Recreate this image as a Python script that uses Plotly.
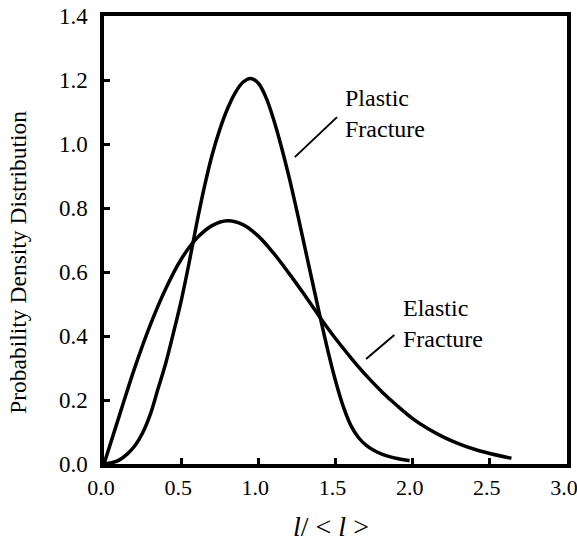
import plotly.graph_objects as go

# ---- data ----
plastic_x = [0.0, 0.05, 0.1, 0.15, 0.2, 0.25, 0.3, 0.35, 0.4, 0.45, 0.5, 0.55, 0.6, 0.65,
             0.7, 0.75, 0.8, 0.85, 0.9, 0.95, 1.0, 1.05, 1.1, 1.15, 1.2, 1.25, 1.3, 1.35,
             1.4, 1.45, 1.5, 1.55, 1.6, 1.65, 1.7, 1.75, 1.8, 1.85, 1.9, 1.98]
plastic_y = [0.0, 0.004, 0.013, 0.031, 0.057, 0.097, 0.155, 0.235, 0.315, 0.41, 0.51, 0.625,
             0.75, 0.865, 0.965, 1.045, 1.11, 1.16, 1.193, 1.205, 1.19, 1.145, 1.075, 0.99,
             0.895, 0.79, 0.68, 0.57, 0.46, 0.355, 0.26, 0.18, 0.12, 0.082, 0.058, 0.042,
             0.031, 0.023, 0.017, 0.01]

elastic_x = [0.0, 0.1, 0.2, 0.3, 0.4, 0.5, 0.6, 0.7, 0.8, 0.9, 1.0, 1.1, 1.2, 1.3, 1.4,
             1.5, 1.6, 1.7, 1.8, 1.9, 2.0, 2.1, 2.2, 2.3, 2.4, 2.5, 2.64]
elastic_y = [0.0, 0.152, 0.302, 0.435, 0.548, 0.64, 0.705, 0.745, 0.76, 0.748, 0.712, 0.658,
             0.595, 0.528, 0.458, 0.392, 0.332, 0.276, 0.226, 0.182, 0.142, 0.11, 0.084,
             0.063, 0.046, 0.033, 0.018]

x_ticks = [0.0, 0.5, 1.0, 1.5, 2.0, 2.5, 3.0]
y_ticks = [0.0, 0.2, 0.4, 0.6, 0.8, 1.0, 1.2, 1.4]

labels = ["Plastic<br>Fracture", "Elastic<br>Fracture"]
label_pos = [(1.55, 1.095), (1.925, 0.44)]
leaders = [((1.236, 0.959), (1.51, 1.084)), ((1.698, 0.328), (1.881, 0.403))]

FONT = "Liberation Serif, Times New Roman, serif"

fig = go.Figure()
for xs, ys in [(plastic_x, plastic_y), (elastic_x, elastic_y)]:
    fig.add_trace(go.Scatter(x=xs, y=ys, mode="lines",
                             line=dict(color="black", width=3.5, shape="spline", smoothing=1.0),
                             showlegend=False, hoverinfo="skip"))

for txt, (lx, ly) in zip(labels, label_pos):
    fig.add_annotation(x=lx, y=ly, xref="x", yref="y", text=txt, showarrow=False,
                       xanchor="left", yanchor="middle", align="left",
                       font=dict(family=FONT, size=24, color="black"))

for (a, b) in leaders:
    fig.add_shape(type="line", x0=a[0], y0=a[1], x1=b[0], y1=b[1], xref="x", yref="y",
                  line=dict(color="black", width=2))

fig.add_annotation(text="Probability Density Distribution", textangle=-90,
                   xref="paper", yref="paper", x=-0.186, y=0.451,
                   xanchor="center", yanchor="middle", showarrow=False,
                   font=dict(family=FONT, size=23.5, color="black"))
fig.add_annotation(text="<i>l</i>/ &lt; <i>l</i> &gt;",
                   xref="paper", yref="paper", x=0.49, y=-0.14,
                   xanchor="center", yanchor="middle", showarrow=False,
                   font=dict(family=FONT, size=28, color="black"))

axis_common = dict(showline=True, linecolor="black", linewidth=3.5, mirror=True,
                   ticks="inside", ticklen=6, tickwidth=3, tickcolor="black",
                   showgrid=False, zeroline=False, tickformat=".1f", automargin=False,
                   ticklabeloverflow="allow")

fig.update_xaxes(range=[0, 3.0], tickvals=x_ticks, ticklabelstandoff=1, ticklabelshift=-3,
                 tickfont=dict(family=FONT, size=22, color="black"), **axis_common)
fig.update_yaxes(range=[0, 1.4], tickvals=y_ticks, ticklabelstandoff=8,
                 tickfont=dict(family=FONT, size=23, color="black"), **axis_common)

fig.update_layout(width=577, height=541, plot_bgcolor="white", paper_bgcolor="white",
                  margin=dict(l=104, r=10, t=16, b=77))

fig.write_html("out.html", config={"displayModeBar": False},
               post_script="document.body.style.margin='0';document.body.style.overflow='hidden';")
